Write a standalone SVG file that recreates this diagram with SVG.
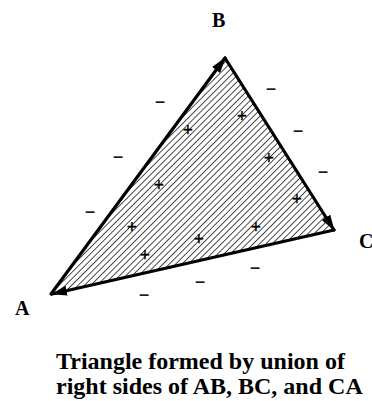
<svg xmlns="http://www.w3.org/2000/svg" width="372" height="401" viewBox="0 0 372 401">
<style>
.lbl{font-family:"Liberation Serif","Times New Roman",serif;font-weight:bold;font-size:20px;fill:#000}
.cap{font-family:"Liberation Serif","Times New Roman",serif;font-weight:bold;font-size:24px;fill:#000}
.mn{font-family:"Liberation Serif","Times New Roman",serif;font-size:18px;fill:#000;stroke:#000;stroke-width:0.4;text-anchor:middle}
.pl{font-family:"Liberation Serif","Times New Roman",serif;font-weight:bold;font-size:18px;fill:#000;stroke:#000;stroke-width:0.3;text-anchor:middle}
.edge{stroke:#000;stroke-width:3.2;fill:none;stroke-linecap:round;marker-end:url(#arr)}
</style>
<defs>
<pattern id="hatch" patternUnits="userSpaceOnUse" width="4.5" height="4.5" patternTransform="rotate(45)">
<line x1="0" y1="0" x2="0" y2="4.5" stroke="#000" stroke-width="1.4"/>
</pattern>
<marker id="arr" markerUnits="userSpaceOnUse" viewBox="0 0 16 10" markerWidth="16" markerHeight="10" refX="15" refY="5" orient="auto">
<path d="M0,0 L16,5 L0,10 z" fill="#000"/>
</marker>
</defs>
<rect width="372" height="401" fill="#fff"/>
<g id="region">
<polygon points="51,294 225,57 334,231" fill="url(#hatch)" stroke="none"/>
</g>
<g id="connectors">
<line class="edge" x1="51" y1="294" x2="225" y2="58"/>
<line class="edge" x1="225" y1="58" x2="334" y2="230"/>
<line class="edge" x1="334" y1="230" x2="52" y2="294"/>
</g>
<g id="node-A"><text class="lbl" x="15" y="315">A</text></g>
<g id="node-B"><text class="lbl" x="212" y="27">B</text></g>
<g id="node-C"><text class="lbl" x="359" y="248">C</text></g>
<g id="minus">
<text class="mn" x="160" y="108">−</text>
<text class="mn" x="271" y="95">−</text>
<text class="mn" x="118" y="163">−</text>
<text class="mn" x="298" y="137">−</text>
<text class="mn" x="90" y="218">−</text>
<text class="mn" x="323" y="178">−</text>
<text class="mn" x="255" y="274">−</text>
<text class="mn" x="200" y="288">−</text>
<text class="mn" x="144" y="301">−</text>
</g>
<g id="plus">
<text class="pl" x="188" y="136">+</text>
<text class="pl" x="242" y="122">+</text>
<text class="pl" x="269" y="164">+</text>
<text class="pl" x="159" y="191">+</text>
<text class="pl" x="297" y="205">+</text>
<text class="pl" x="132" y="233">+</text>
<text class="pl" x="199" y="245">+</text>
<text class="pl" x="256" y="233">+</text>
<text class="pl" x="145" y="261">+</text>
</g>
<g id="caption">
<text class="cap" x="56" y="369">Triangle formed by union of</text>
<text class="cap" x="56" y="394">right sides of AB, BC, and CA</text>
</g>
</svg>
